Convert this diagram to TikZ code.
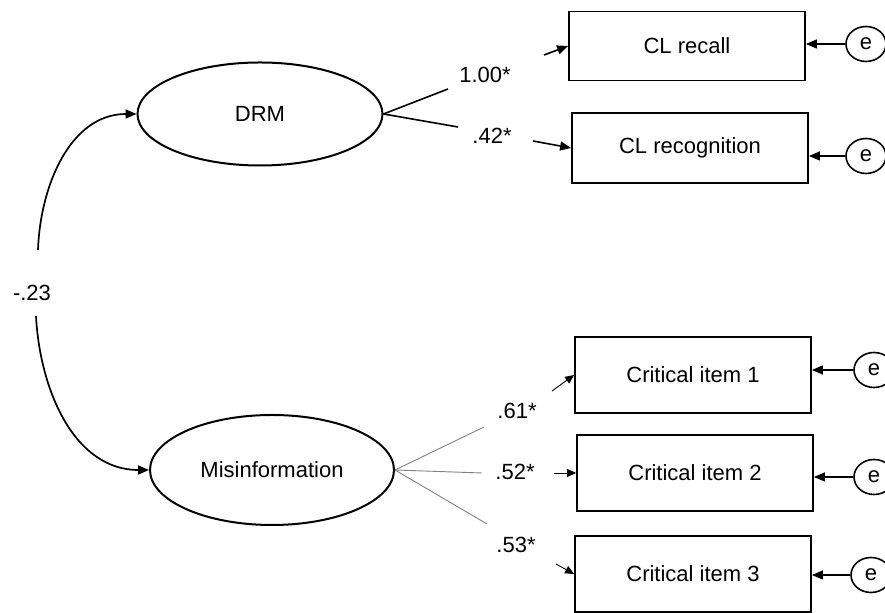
\documentclass[tikz,border=0pt]{standalone}
\usepackage{fontspec}
\setmainfont{Liberation Sans}
\usetikzlibrary{shapes.geometric,arrows.meta}
\tikzset{
  latent/.style={draw, ellipse, line width=1pt, inner sep=0pt},
  observed/.style={draw, rectangle, line width=0.9pt, minimum width=118pt, inner sep=0pt},
  err/.style={draw, ellipse, line width=0.8pt, minimum width=20pt, minimum height=17.5pt, inner sep=0pt},
  tip/.style={-{Triangle[length=5.5pt,width=4.5pt]}},
  smalltip/.style={-{Triangle[length=4.5pt,width=4pt]}},
}
\begin{document}
\begin{tikzpicture}[x=0.5pt, y=-0.5pt, font=\fontsize{11}{13}\selectfont]
    \useasboundingbox (0,0) rectangle (885,613);
    % latent factors
    \node[latent, minimum width=122.5pt, minimum height=51.5pt] (drm) at (260,114) {DRM};
    \node[latent, minimum width=122pt, minimum height=55pt] (mis) at (272,470) {Misinformation};
    % indicators
    \node[observed, minimum height=34.5pt] (recall) at (687,46) {CL recall};
    \node[observed, minimum height=35pt] (recog) at (690,148) {CL recognition};
    \node[observed, minimum height=38pt] (crit1) at (693,375) {Critical item 1};
    \node[observed, minimum height=38pt] (crit2) at (695,473) {Critical item 2};
    \node[observed, minimum height=38pt] (crit3) at (693,574) {Critical item 3};
    % error terms
    \node[err] (e1) at (866,44) {e};
    \node[err] (e2) at (866,156) {e};
    \node[err] (e3) at (874,370) {e};
    \node[err] (e4) at (874,477) {e};
    \node[err] (e5) at (871,575) {e};
    \draw[tip, line width=0.6pt] (e1.west) -- (e1.west -| recall.east);
    \draw[tip, line width=0.6pt] (e2.west) -- (e2.west -| recog.east);
    \draw[tip, line width=0.6pt] (e3.west) -- (e3.west -| crit1.east);
    \draw[tip, line width=0.6pt] (e4.west) -- (e4.west -| crit2.east);
    \draw[tip, line width=0.6pt] (e5.west) -- (e5.west -| crit3.east);
    % covariance between factors
    \node (cov) at (32,293) {-.23};
    \coordinate (c1) at (38,250);
    \coordinate (c2) at (36,316);
    \draw[tip, line width=0.85pt] (c1) to[out=88, in=180] (drm.west);
    \draw[tip, line width=0.85pt] (c2) to[out=-87, in=180] (mis.west);
    % DRM loadings
    \coordinate (l1) at (448,89);
    \coordinate (l2) at (458,127);
    \draw[line width=0.8pt] (drm.east) -- (l1);
    \draw[line width=0.8pt] (drm.east) -- (l2);
    \node (w1) at (485,75) {1.00*};
    \node (w2) at (492,136) {.42*};
    \coordinate (a1) at (544,55);
    \coordinate (a2) at (533,141);
    \draw[tip, line width=0.8pt] (a1) -- (recall.west);
    \draw[tip, line width=0.8pt] (a2) -- (recog.west);
    % Misinformation loadings
    \coordinate (l3) at (484,427);
    \coordinate (l4) at (482,473);
    \coordinate (l5) at (487,524);
    \draw[gray, line width=0.45pt] (mis.east) -- (l3);
    \draw[gray, line width=0.45pt] (mis.east) -- (l4);
    \draw[gray, line width=0.45pt] (mis.east) -- (l5);
    \node (w3) at (517,411) {.61*};
    \node (w4) at (515,472) {.52*};
    \node (w5) at (516,545) {.53*};
    \coordinate (a3) at (552,391);
    \coordinate (a4) at (554,473);
    \coordinate (a5) at (556,564);
    \draw[smalltip, line width=0.45pt] (a3) -- (crit1.west);
    \draw[smalltip, line width=0.45pt] (a4) -- (crit2.west);
    \draw[smalltip, line width=0.45pt] (a5) -- (crit3.west);
\end{tikzpicture}
\end{document}
